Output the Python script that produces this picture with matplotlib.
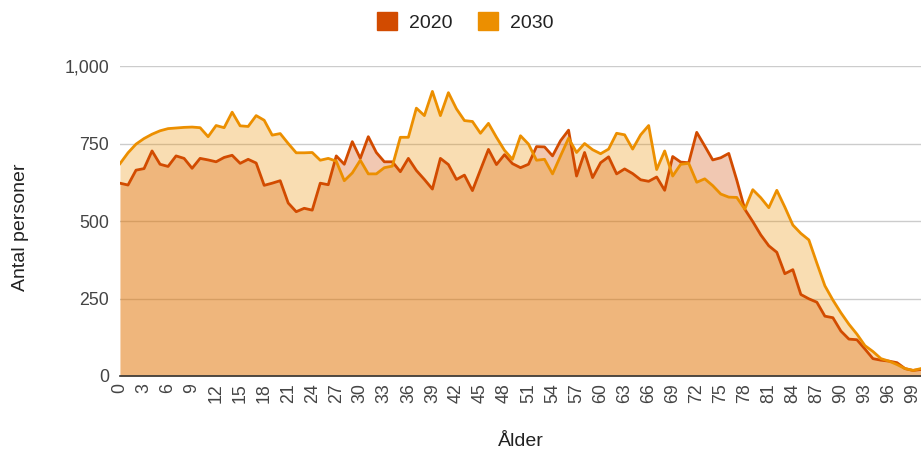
### DEPENDENCIAS
### ------------------

import numpy as np
import matplotlib
matplotlib.use("Agg")
import matplotlib.pyplot as plt
from matplotlib.patches import Patch
from matplotlib.ticker import FuncFormatter

plt.rcParams['font.family'] = ['Liberation Sans', 'DejaVu Sans']

### DATOS
### ------------------

ages = list(range(0, 101))

pop_2020 = [622, 616, 664, 669, 726, 683, 676, 710, 702, 670,
            702, 697, 691, 705, 712, 686, 699, 687, 615, 622,
            630, 558, 530, 541, 535, 622, 617, 710, 683, 756,
            702, 772, 721, 691, 691, 659, 702, 663, 634, 603,
            702, 682, 634, 648, 598, 665, 731, 682, 714, 685,
            672, 683, 740, 739, 710, 759, 793, 645, 721, 640,
            688, 707, 652, 668, 653, 633, 628, 642, 599, 708,
            690, 688, 786, 742, 697, 704, 718, 632, 538, 498,
            455, 420, 399, 330, 343, 263, 249, 238, 193, 188,
            145, 119, 117, 87, 56, 51, 48, 43, 24, 18,
            21]

pop_2030 = [685, 720, 748, 766, 780, 791, 798, 800, 802, 803,
            801, 772, 808, 801, 851, 807, 805, 840, 825, 777,
            782, 750, 720, 720, 721, 696, 702, 693, 630, 655,
            696, 652, 652, 672, 677, 770, 770, 864, 840, 918,
            840, 914, 862, 824, 821, 783, 815, 770, 728, 699,
            775, 748, 696, 699, 652, 710, 767, 721, 750, 730,
            717, 732, 783, 778, 732, 778, 808, 666, 726, 645,
            683, 686, 625, 636, 614, 587, 577, 576, 538, 601,
            575, 543, 599, 545, 487, 460, 439, 364, 291, 245,
            204, 167, 135, 98, 79, 56, 48, 37, 24, 18,
            24]

series_names = ['2020', '2030']
y_ticks = [0, 250, 500, 750, 1000]
x_ticks = list(range(0, 100, 3))

### GRAFICO
### ------------------

colors = ['#d24b00', '#ec8f00']

fig = plt.figure(figsize=(9.21, 4.54), dpi=100)
ax = fig.add_axes([120 / 921, 78 / 454, 801 / 921, 310 / 454])

x = np.array(ages)
for values, color in zip([pop_2020, pop_2030], colors):
    ax.fill_between(x, 0, values, color=color, alpha=0.3, linewidth=0, zorder=2)
for values, color in zip([pop_2020, pop_2030], colors):
    ax.plot(x, values, color=color, linewidth=2, zorder=3)

ax.set_xlim(0, 100)
ax.set_ylim(0, 1000)
ax.set_yticks(y_ticks)
ax.set_xticks(x_ticks)
ax.set_xticklabels([str(t) for t in x_ticks], rotation=90)
ax.yaxis.set_major_formatter(FuncFormatter(lambda v, p: '{:,.0f}'.format(v)))
ax.tick_params(axis='both', length=0, labelsize=12.8, labelcolor='#444444')
ax.tick_params(axis='x', pad=5)
ax.tick_params(axis='y', pad=8)

# Lineas de la grilla por debajo de las areas
ax.grid(axis='y', color='#cccccc', linewidth=1, zorder=1)
ax.grid(axis='x', visible=False)
ax.set_axisbelow(True)
for side in ['top', 'right', 'left']:
    ax.spines[side].set_visible(False)
ax.spines['bottom'].set_color('#333333')
ax.spines['bottom'].set_linewidth(1.2)
ax.spines['bottom'].set_zorder(4)

ax.set_ylabel('Antal personer', fontsize=14, color='#222222')
ax.yaxis.set_label_coords(-0.113, 0.48)
ax.set_xlabel('Ålder', fontsize=14, color='#222222')
ax.xaxis.label.set_va('center')
ax.xaxis.set_label_coords(0.5, -0.21)

handles = [Patch(facecolor=c, edgecolor=c) for c in colors]
fig.legend(handles, series_names, loc='upper center', bbox_to_anchor=(0.505, 1.012),
           ncol=2, frameon=False, fontsize=14, handlelength=1.05, handleheight=1.05,
           handletextpad=0.6, columnspacing=1.3, labelcolor='#222222')

fig.savefig('out.png', dpi=100)
